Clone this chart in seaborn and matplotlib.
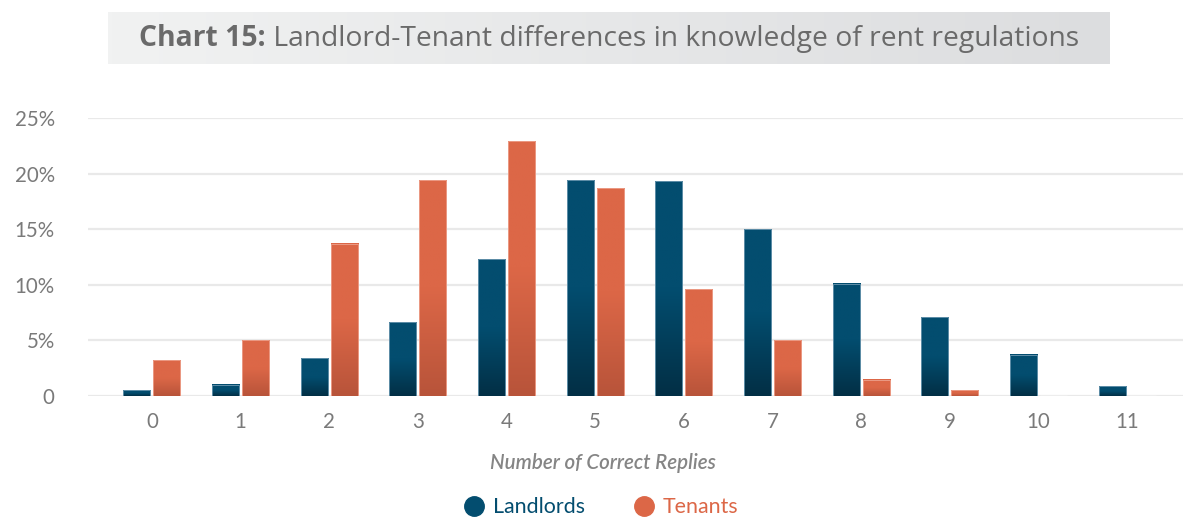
import numpy as np
import pandas as pd
import matplotlib
matplotlib.use("Agg")
import matplotlib.pyplot as plt
from matplotlib.colors import LinearSegmentedColormap, to_rgb
from matplotlib.lines import Line2D
import seaborn as sns

# ---- data ----
categories = ["0", "1", "2", "3", "4", "5", "6", "7", "8", "9", "10", "11"]
landlords = [0.5, 1.0, 3.4, 6.6, 12.3, 19.4, 19.3, 15.0, 10.1, 7.1, 3.7, 0.9]
tenants = [3.2, 5.0, 13.7, 19.4, 22.9, 18.7, 9.6, 5.0, 1.45, 0.5, 0.0, 0.0]
series_names = ["Landlords", "Tenants"]
y_ticks = [0, 5, 10, 15, 20, 25]
y_tick_labels = ["0", "5%", "10%", "15%", "20%", "25%"]
title_bold = "Chart 15:"
title_rest = " Landlord-Tenant differences in knowledge of rent regulations"
x_label = "Number of Correct Replies"

df = pd.DataFrame({
    "cat": categories * 2,
    "value": landlords + tenants,
    "series": [series_names[0]] * len(categories) + [series_names[1]] * len(categories),
})

top_cols = {"Landlords": "#034d6f", "Tenants": "#dc6747"}
bot_cols = {"Landlords": "#022f45", "Tenants": "#b8543a"}
edge_cols = {"Landlords": "#5f8fa8", "Tenants": "#eb9a84"}

sns.set_theme(style="white")
plt.rcParams["font.family"] = ["Lato", "DejaVu Sans"]

W, H = 1203, 517
fig = plt.figure(figsize=(W / 100, H / 100), dpi=100)
ax = fig.add_axes([88 / W, (H - 395.7) / H, (1183 - 88) / W, (395.7 - 118) / H])

sns.barplot(data=df, x="cat", y="value", hue="series", order=categories,
            hue_order=series_names, palette=top_cols, width=0.68, gap=0.1,
            ax=ax, legend=False, saturation=1)

# gradient fill for bars
n = len(categories)
for i, p in enumerate(ax.patches[:2 * n]):
    s = series_names[i // n]
    x0, y0 = p.get_x(), p.get_y()
    w, h = p.get_width(), p.get_height()
    if h <= 0:
        continue
    c1, c2 = np.array(to_rgb(top_cols[s])), np.array(to_rgb(bot_cols[s]))
    t = np.linspace(0, 1, 100)  # 0 bottom, 1 top
    f = np.clip(t / 0.5, 0, 1)
    img = (c2[None, :] * (1 - f[:, None]) + c1[None, :] * f[:, None])[:, None, :]
    ax.imshow(img, extent=[x0, x0 + w, y0, y0 + h], origin="lower",
              aspect="auto", zorder=p.get_zorder() + 0.1, interpolation="bilinear")
    p.set_facecolor("none")
    p.set_edgecolor(edge_cols[s])
    p.set_linewidth(0.7)
    p.set_zorder(p.get_zorder() + 0.2)

ax.set_xlim(-0.72, 11.63)
ax.set_ylim(0, 25)
ax.set_yticks(y_ticks)
ax.set_yticklabels(y_tick_labels)
ax.yaxis.grid(True, color="#e9e9e9", linewidth=1.6)
ax.set_axisbelow(True)
for sp in ax.spines.values():
    sp.set_visible(False)
ax.tick_params(axis="y", length=0, pad=24, labelsize=14.8, labelcolor="#7a7a7a")
ax.tick_params(axis="x", length=0, pad=12, labelsize=14.8, labelcolor="#7a7a7a")
ax.set_xlabel(x_label, fontsize=14.8, style="italic", color="#858585",
              fontweight="semibold")
ax.xaxis.set_label_coords((603 - 88) / (1183 - 88), -0.205)
ax.set_ylabel("")

# legend
handles = [Line2D([0], [0], marker="o", linestyle="", markersize=14,
                  markerfacecolor=top_cols[s], markeredgecolor=top_cols[s]) for s in series_names]
leg = fig.legend(handles, series_names, loc="center", bbox_to_anchor=(601 / W, 1 - 507 / H),
                 ncol=2, frameon=False, fontsize=15.4, handletextpad=0.35, columnspacing=2.3,
                 handlelength=1.0)
for txt, s in zip(leg.get_texts(), series_names):
    txt.set_color(top_cols[s])

# title box with gradient
tax = fig.add_axes([108 / W, (H - 64) / H, (1110 - 108) / W, 52 / H])
grad = np.linspace(0, 1, 256)
cmap = LinearSegmentedColormap.from_list("g", ["#f1f2f2", "#dcdddf"])
tax.imshow(grad[None, :], aspect="auto", cmap=cmap, extent=[0, 1, 0, 1])
tax.set_xlim(0, 1)
tax.set_ylim(0, 1)
tax.axis("off")

tfont = ["Open Sans", "DejaVu Sans"]
fig.canvas.draw()
r = fig.canvas.get_renderer()
tb = fig.text(0, 0, title_bold, fontsize=20.3, fontweight="bold", color="#6a6a6a", family=tfont)
tr = fig.text(0, 0, title_rest, fontsize=20.3, color="#6a6a6a", family=tfont)
wb = tb.get_window_extent(r).width
wr = tr.get_window_extent(r).width
cx = 609
start = cx - (wb + wr) / 2
yc = 1 - 39 / H
tb.set_position((start / W, yc))
tb.set_va("center")
tr.set_position(((start + wb) / W, yc))
tr.set_va("center")

fig.savefig("out.png", dpi=100)
